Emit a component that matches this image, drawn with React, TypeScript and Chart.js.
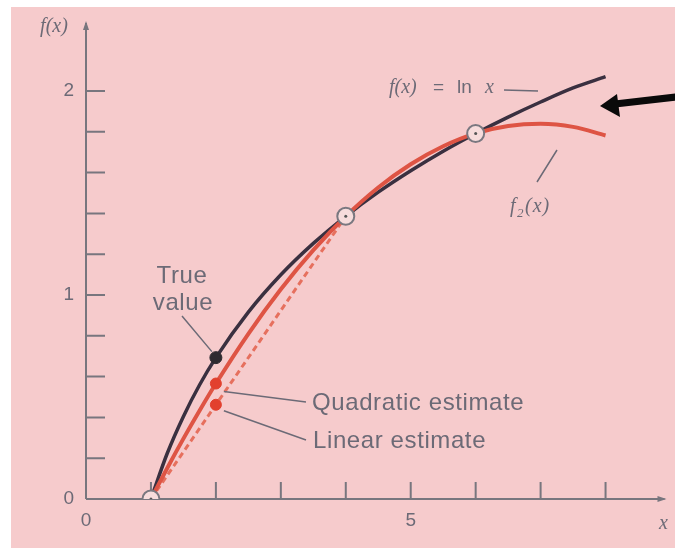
import React, { useEffect, useRef } from "react";
import { Chart, registerables } from "chart.js";

Chart.register(...registerables);

// ---- data ----
const curveX = [1, 1.25, 1.5, 1.75, 2, 2.5, 3, 3.5, 4, 4.5, 5, 5.5, 6, 6.5, 7, 7.5, 8];
const lnValues = [0, 0.223, 0.405, 0.56, 0.693, 0.916, 1.099, 1.253, 1.386, 1.504, 1.609, 1.705, 1.792, 1.872, 1.946, 2.015, 2.07];
const f2Values = [0, 0.151, 0.296, 0.434, 0.566, 0.81, 1.028, 1.22, 1.386, 1.527, 1.641, 1.729, 1.792, 1.828, 1.839, 1.824, 1.782];
const linearX = [1, 4];
const linearValues = [0, 1.386];
const nodeX = [1, 4, 6];
const nodeValues = [0, 1.386, 1.792];
const trueX = [2];
const trueValues = [0.693];
const estimateX = [2, 2];
const estimateValues = [0.566, 0.462];
const xTicks = [1, 2, 3, 4, 5, 6, 7, 8];
const yTicks = [0.2, 0.4, 0.6, 0.8, 1, 1.2, 1.4, 1.6, 1.8, 2];
const xTickLabels = [0, 5];
const yTickLabels = [0, 1, 2];

const pts = (xs: number[], ys: number[]) => xs.map((x, i) => ({ x, y: ys[i] }));

const AXIS = "#78767e";
const TEXT = "#6c6a76";
const SERIF = "'Liberation Serif', 'DejaVu Serif', serif";
const SANS = "'Liberation Sans', Arial, sans-serif";

const decorPlugin = {
  id: "decor",
  beforeDraw(chart: any) {
    const ctx = chart.ctx;
    ctx.save();
    ctx.fillStyle = "#ffffff";
    ctx.fillRect(0, 0, chart.width, chart.height);
    ctx.fillStyle = "#f6cbcc";
    ctx.fillRect(11, 7, chart.width - 11, chart.height - 7);
    ctx.restore();
  },
  beforeDatasetsDraw(chart: any) {
    const ctx = chart.ctx;
    const xs = chart.scales.x;
    const ys = chart.scales.y;
    const x0 = xs.getPixelForValue(0);
    const y0 = ys.getPixelForValue(0);
    const xEnd = xs.getPixelForValue(xs.max);
    const yTop = ys.getPixelForValue(ys.max);
    ctx.save();
    ctx.strokeStyle = AXIS;
    ctx.fillStyle = AXIS;
    ctx.lineWidth = 2;
    ctx.beginPath();
    ctx.moveTo(x0, y0);
    ctx.lineTo(xEnd, y0);
    ctx.moveTo(x0, y0);
    ctx.lineTo(x0, yTop);
    ctx.stroke();
    ctx.beginPath();
    ctx.moveTo(xEnd + 2, y0);
    ctx.lineTo(xEnd - 7, y0 - 3);
    ctx.lineTo(xEnd - 7, y0 + 3);
    ctx.closePath();
    ctx.fill();
    ctx.beginPath();
    ctx.moveTo(x0, yTop - 2);
    ctx.lineTo(x0 - 3, yTop + 7);
    ctx.lineTo(x0 + 3, yTop + 7);
    ctx.closePath();
    ctx.fill();
    ctx.beginPath();
    xTicks.forEach((v) => {
      const px = xs.getPixelForValue(v);
      ctx.moveTo(px, y0);
      ctx.lineTo(px, y0 - 17);
    });
    yTicks.forEach((v) => {
      const py = ys.getPixelForValue(v);
      ctx.moveTo(x0, py);
      ctx.lineTo(x0 + 19, py);
    });
    ctx.stroke();
    ctx.fillStyle = TEXT;
    ctx.font = "19px " + SANS;
    ctx.textAlign = "center";
    ctx.textBaseline = "middle";
    xTickLabels.forEach((v) => {
      ctx.fillText(String(v), xs.getPixelForValue(v), y0 + 22);
    });
    ctx.textAlign = "right";
    yTickLabels.forEach((v) => {
      ctx.fillText(String(v), x0 - 12, ys.getPixelForValue(v));
    });
    ctx.font = "italic 20px " + SERIF;
    ctx.textAlign = "center";
    ctx.fillText("f(x)", x0 - 32, yTop + 4);
    ctx.fillText("x", xEnd - 1, y0 + 25);
    ctx.restore();
  },
  afterDatasetsDraw(chart: any) {
    const ctx = chart.ctx;
    const xs = chart.scales.x;
    const ys = chart.scales.y;
    const P = (x: number, y: number) => [xs.getPixelForValue(x), ys.getPixelForValue(y)];
    ctx.save();
    ctx.strokeStyle = TEXT;
    ctx.fillStyle = TEXT;
    ctx.lineWidth = 1.5;
    const [tx, ty] = P(trueX[0], trueValues[0]);
    const [qx, qy] = P(estimateX[0], estimateValues[0]);
    const [lx, ly] = P(estimateX[1], estimateValues[1]);
    ctx.beginPath();
    ctx.moveTo(182, 316);
    ctx.lineTo(tx - 4, ty - 6);
    ctx.moveTo(qx + 8, qy + 8);
    ctx.lineTo(306, 402);
    ctx.moveTo(lx + 8, ly + 6);
    ctx.lineTo(306, 440);
    ctx.moveTo(504, 90);
    ctx.lineTo(538, 91);
    ctx.moveTo(537, 182);
    ctx.lineTo(557, 150);
    ctx.stroke();
    ctx.font = "24px " + SANS;
    ctx.textBaseline = "alphabetic";
    ctx.textAlign = "left";
    (ctx as any).letterSpacing = "0.6px";
    ctx.fillText("Quadratic estimate", 312, 410);
    ctx.fillText("Linear estimate", 313, 448);
    ctx.textAlign = "center";
    ctx.fillText("True", 182, 283);
    ctx.fillText("value", 183, 310);
    (ctx as any).letterSpacing = "0px";
    ctx.textAlign = "left";
    ctx.font = "italic 20px " + SERIF;
    ctx.fillText("f(x)", 389, 93);
    ctx.font = "19px " + SANS;
    ctx.fillText("=", 433, 93);
    ctx.fillText("ln", 457, 93);
    ctx.font = "italic 20px " + SERIF;
    ctx.fillText("x", 485, 93);
    ctx.fillText("f", 510, 212);
    ctx.font = "italic 13px " + SERIF;
    ctx.fillText("2", 517, 217);
    ctx.font = "italic 20px " + SERIF;
    (ctx as any).letterSpacing = "1px";
    ctx.fillText("(x)", 525, 212);
    (ctx as any).letterSpacing = "0px";
    ctx.fillStyle = "#0a0a0a";
    ctx.strokeStyle = "#0a0a0a";
    ctx.lineWidth = 7;
    ctx.beginPath();
    ctx.moveTo(676, 97);
    ctx.lineTo(615, 104);
    ctx.stroke();
    ctx.beginPath();
    ctx.moveTo(600, 106);
    ctx.lineTo(617, 94);
    ctx.lineTo(620, 117);
    ctx.closePath();
    ctx.fill();
    ctx.restore();
  },
};

export default function App() {
  const ref = useRef<HTMLCanvasElement | null>(null);
  useEffect(() => {
    if (!ref.current) return;
    const chart = new Chart(ref.current, {
      type: "scatter",
      data: {
        datasets: [
          {
            data: pts(nodeX, nodeValues),
            showLine: false,
            pointRadius: 1.5,
            pointBackgroundColor: "#555",
            pointBorderWidth: 0,
            order: 0,
          },
          {
            data: pts(nodeX, nodeValues),
            showLine: false,
            pointRadius: 8.5,
            pointBackgroundColor: "#f7dcdc",
            pointBorderColor: "#7a7880",
            pointBorderWidth: 2,
            order: 1,
          },
          {
            data: pts(trueX, trueValues),
            showLine: false,
            pointRadius: 6,
            pointBackgroundColor: "#2e2a30",
            pointBorderColor: "#2e2a30",
            order: 2,
          },
          {
            data: pts(estimateX, estimateValues),
            showLine: false,
            pointRadius: 5.5,
            pointBackgroundColor: "#e2402e",
            pointBorderColor: "#e2402e",
            order: 3,
          },
          {
            data: pts(curveX, f2Values),
            showLine: true,
            borderColor: "#de5444",
            borderWidth: 4,
            pointRadius: 0,
            cubicInterpolationMode: "monotone",
            order: 4,
          },
          {
            data: pts(curveX, lnValues),
            showLine: true,
            borderColor: "#3a3040",
            borderWidth: 3.5,
            pointRadius: 0,
            cubicInterpolationMode: "monotone",
            order: 5,
          },
          {
            data: pts(linearX, linearValues),
            showLine: true,
            borderColor: "#e6705e",
            borderWidth: 3,
            borderDash: [6, 4],
            pointRadius: 0,
            order: 6,
          },
        ],
      },
      options: {
        responsive: false,
        maintainAspectRatio: false,
        animation: false,
        layout: { padding: { left: 86, right: 10, top: 23, bottom: 49 } },
        scales: {
          x: { type: "linear", min: 0, max: 579 / 65, display: false },
          y: { type: "linear", min: 0, max: 476 / 204, display: false },
        },
        plugins: { legend: { display: false }, tooltip: { enabled: false } },
        events: [],
      },
      plugins: [decorPlugin],
    } as any);
    return () => chart.destroy();
  }, []);
  return (
    <div style={{ position: "fixed", left: 0, top: 0, width: 675, height: 548 }}>
      <canvas ref={ref} width={675} height={548} style={{ width: 675, height: 548, display: "block" }} />
    </div>
  );
}
